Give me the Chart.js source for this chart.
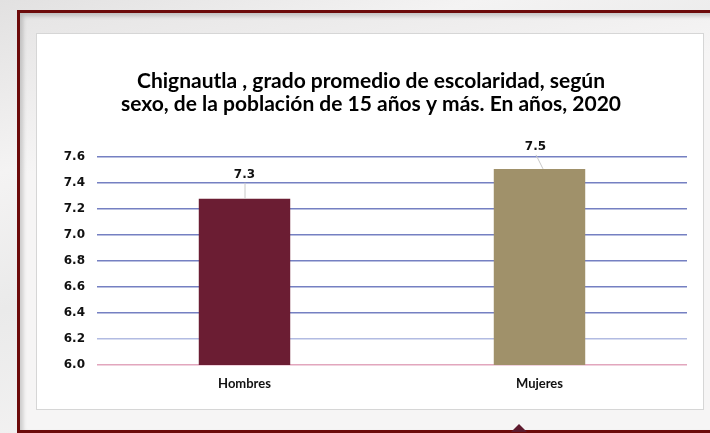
<!DOCTYPE html>
<html>
<head>
<meta charset="utf-8">
<script src="https://cdn.jsdelivr.net/npm/chart.js@4"></script>
<style>
  html, body { margin: 0; padding: 0; }
  body {
    width: 710px; height: 433px; overflow: hidden; position: relative;
    background: linear-gradient(160deg, #e2e1e1 0%, #f4f3f3 25%, #eaeaea 45%, #f4f3f3 70%);
  }
  #frame {
    position: absolute; left: 17px; top: 10px; width: 720px; height: 423px;
    border: 3px solid #6c0a0a; box-sizing: border-box;
    background: linear-gradient(170deg, #e6e5e5 0%, #f6f5f5 30%, #f6f5f5 100%);
    box-shadow: inset 3px 3px 4px rgba(0,0,0,0.18);
  }
  #panel {
    position: absolute; left: 36px; top: 33px; width: 668px; height: 377px;
    background: #fff; border: 1px solid #d6d6d6; box-sizing: border-box;
  }
  #myChart { position: absolute; left: 0; top: 0; }
  #tri {
    position: absolute; left: 511px; top: 424px; width: 0; height: 0;
    border-left: 8px solid transparent; border-right: 8px solid transparent;
    border-bottom: 8px solid #5e1a2e;
  }
</style>
</head>
<body>
<div id="frame"></div>
<div id="panel"><canvas id="myChart" width="666" height="375"></canvas></div>
<div id="tri"></div>
<script>
var categories = ['Hombres', 'Mujeres'];
var values = [7.28, 7.51];
var valueLabels = ['7.3', '7.5'];
var barColors = ['#6b1d33', '#a0916a'];
var titleLines = ['Chignautla , grado promedio de escolaridad, según',
                  'sexo, de la población de 15 años y más. En años, 2020'];

// label offsets (x, y above bar top) for the leader lines
var labelOffsets = [[0, 24], [-4, 22]];

var labelPlugin = {
    id: 'barLabels',
    afterDatasetsDraw: function(chart) {
        var c = chart.ctx;
        var meta = chart.getDatasetMeta(0);
        c.save();
        c.font = 'bold 12px "DejaVu Sans"';
        c.fillStyle = '#111';
        c.textAlign = 'center';
        c.textBaseline = 'middle';
        meta.data.forEach(function(bar, i) {
            var lx = bar.x + labelOffsets[i][0];
            var ly = bar.y - labelOffsets[i][1];
            c.strokeStyle = '#c8c8c8';
            c.lineWidth = 1;
            c.beginPath();
            c.moveTo(lx + 0.5, ly + 8);
            c.lineTo(bar.x - (labelOffsets[i][0] ? -3 : 0) + 0.5, bar.y);
            c.stroke();
            c.fillText(valueLabels[i], lx, ly);
        });
        c.restore();
    }
};

var ctx = document.getElementById('myChart').getContext('2d');
var chart = new Chart(ctx, {
    type: 'bar',
    data: {
        labels: categories,
        datasets: [{
            data: values,
            backgroundColor: barColors,
            categoryPercentage: 1,
            barPercentage: 0.31
        }]
    },
    options: {
        responsive: false,
        animation: false,
        layout: { padding: { left: 18, right: 16, top: 0, bottom: 0 } },
        plugins: {
            legend: { display: false },
            tooltip: { enabled: false },
            title: {
                display: true,
                text: titleLines,
                color: '#000',
                font: { family: 'Lato', size: 21, weight: 'bold', lineHeight: 1.1 },
                padding: { top: 36, bottom: 41 }
            }
        },
        scales: {
            x: {
                grid: { display: false },
                border: { display: false },
                ticks: { color: '#111', font: { family: 'Lato', size: 13, weight: 'bold' }, padding: 3 },
                afterFit: function(s) { s.height = 44; }
            },
            y: {
                min: 6,
                max: 7.6,
                border: { display: false },
                grid: {
                    drawTicks: false,
                    lineWidth: 1.6,
                    color: function(c) {
                        if (c.tick.value === 6) return '#e2a6bd';
                        if (Math.abs(c.tick.value - 6.2) < 1e-6) return '#b2bbe2';
                        return '#7580c2';
                    }
                },
                ticks: {
                    stepSize: 0.2,
                    padding: 12,
                    color: '#111',
                    font: { family: 'DejaVu Sans', size: 12, weight: 'bold' },
                    callback: function(v) { return v.toFixed(1); }
                },
                afterFit: function(s) { s.width = 42; }
            }
        }
    },
    plugins: [labelPlugin]
});
</script>
</body>
</html>
